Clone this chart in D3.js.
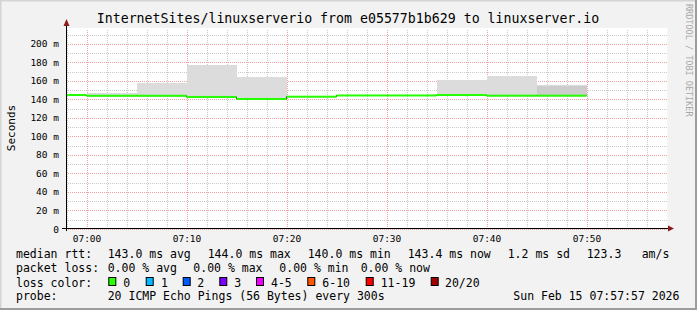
<!DOCTYPE html>
<html>
<head>
<meta charset="utf-8">
<script src="https://cdn.jsdelivr.net/npm/d3@7"></script>
<style>
body { margin: 0; background: #f2f2f2; }
text { font-family: "DejaVu Sans Mono", monospace; fill: #000; }
</style>
</head>
<body>
<svg></svg>
<script>
// chart data
const title = 'InternetSites/linuxserverio from e05577b1b629 to linuxserver.io'
const day = '2026-02-15'
const rangeStart = '06:57:57', rangeEnd = '07:57:57'
const intervalStart = ['06:55', '07:00', '07:05', '07:10', '07:15', '07:20', '07:25', '07:30', '07:35', '07:40', '07:45']
const intervalEnd = ['07:00', '07:05', '07:10', '07:15', '07:20', '07:25', '07:30', '07:35', '07:40', '07:45', '07:50']
const median = [144.3, 143.5, 143.5, 142.2, 140.0, 142.5, 143.8, 143.8, 144.3, 143.6, 143.6] // ms
const smokeLo = [143.8, 142.8, 142.8, 141.6, 139.4, 142.0, 143.2, 143.2, 143.6, 143.0, 143.0]
const smokeHi = [144.8, 146.8, 157.6, 177.1, 163.8, 143.0, 144.2, 144.2, 160.2, 164.9, 155.1]
const smokeDense = [null, null, null, null, null, null, null, null, null, null, 154.1]
const yTicks = [0, 20, 40, 60, 80, 100, 120, 140, 160, 180, 200]
const yMinor = d3.range(0, 220, 10)

const rttLabel = 'median rtt:'
const rttStats = ['143.0 ms avg', '144.0 ms max', '140.0 ms min', '143.4 ms now', '1.2 ms sd', '123.3', 'am/s']
const lossLabel = 'packet loss:'
const lossStats = ['0.00 % avg', '0.00 % max', '0.00 % min', '0.00 % now']
const colorLabel = 'loss color:'
const lossNames = ['0', '1', '2', '3', '4-5', '6-10', '11-19', '20/20']
const lossColors = ['#26ff00', '#00b8ff', '#0059ff', '#7e00ff', '#ee00ff', '#ff5500', '#ff0000', '#a10000']
const probeLabel = 'probe:'
const probeText = '20 ICMP Echo Pings (56 Bytes) every 300s'
const stamp = 'Sun Feb 15 07:57:57 2026'

// layout
const WIDTH = 697, HEIGHT = 310
const X0 = 66, X1 = 666, Y0 = 228.5, Y1 = 28.5
const swidth = 1.08 // half height of the median band, ms
const rttX = [107.7, 207.7, 307.7, 407.7, 507.7, 586.7, 641.7]
const lossX = [107.7, 193.3, 279.3, 360.7]
const swatchX = [108.3, 145.7, 182.7, 219.3, 256, 307.3, 365.7, 430.7]
const swatchTextX = [123.3, 161, 197.3, 234.3, 271, 322.3, 380.7, 445]

const parse = d3.timeParse('%Y-%m-%d %H:%M:%S')
const t = s => parse(`${day} ${s.length === 5 ? s + ':00' : s}`)

const rows = intervalStart.map((s, i) => ({
	start: t(s), end: t(intervalEnd[i]), med: median[i],
	lo: smokeLo[i], hi: smokeHi[i], dense: smokeDense[i]
}))

const svg = d3.select('svg').attr('width', WIDTH).attr('height', HEIGHT)

const x = d3.scaleTime().domain([t(rangeStart), t(rangeEnd)]).range([X0, X1])
const y = d3.scaleLinear().domain([0, 216.2]).range([Y0, Y1])

// background + frame
svg.append('rect').attr('width', WIDTH).attr('height', HEIGHT).attr('fill', '#f2f2f2')
svg.append('path').attr('d', `M0,${HEIGHT} V0 H${WIDTH}`).attr('stroke', '#d4d4d4').attr('stroke-width', 3).attr('fill', 'none')
svg.append('path').attr('d', `M${WIDTH},0 V${HEIGHT} H0`).attr('stroke', '#9c9c9c').attr('stroke-width', 4).attr('fill', 'none')

svg.append('rect').attr('x', X0 + 0.5).attr('y', 28).attr('width', X1 - X0 + 1).attr('height', 200).attr('fill', '#fff')

svg.append('defs').append('clipPath').attr('id', 'plot')
	.append('rect').attr('x', X0).attr('y', 28).attr('width', X1 - X0 + 1).attr('height', 200.5)

// grid (minor first, major on top)
const grid = svg.append('g')
function gridAxis(axis, cls, color) {
	const gg = grid.append('g').call(axis)
	gg.select('.domain').remove()
	gg.selectAll('line').attr('stroke', color).attr('stroke-dasharray', '1,1').attr('shape-rendering', 'crispEdges')
	return gg
}
gridAxis(d3.axisBottom(x).ticks(d3.timeMinute.every(2)).tickSize(-200).tickFormat(''), 'vmin', '#c9c9c9')
	.attr('transform', `translate(0.5,${Y0})`)
gridAxis(d3.axisLeft(y).tickValues(yMinor).tickSize(-(X1 - X0 + 1)).tickFormat(''), 'hmin', '#c9c9c9')
	.attr('transform', `translate(${X0},0.5)`)
gridAxis(d3.axisBottom(x).ticks(d3.timeMinute.every(10)).tickSize(-200).tickFormat(''), 'vmaj', '#f3a0a0')
	.attr('transform', `translate(0.5,${Y0})`)
gridAxis(d3.axisLeft(y).tickValues(yTicks).tickSize(-(X1 - X0 + 1)).tickFormat(''), 'hmaj', '#f3a0a0')
	.attr('transform', `translate(${X0},0.5)`)

// smoke + median
const plot = svg.append('g').attr('clip-path', 'url(#plot)')
plot.selectAll('.smoke').data(rows).join('rect')
	.attr('x', d => x(d.start)).attr('width', d => x(d.end) - x(d.start))
	.attr('y', d => y(d.hi)).attr('height', d => y(d.lo) - y(d.hi))
	.attr('fill', '#dcdcdc').attr('shape-rendering', 'crispEdges')
plot.selectAll('.dense').data(rows.filter(d => d.dense != null)).join('rect')
	.attr('x', d => x(d.start)).attr('width', d => x(d.end) - x(d.start))
	.attr('y', d => y(d.dense)).attr('height', d => y(d.lo) - y(d.dense))
	.attr('fill', '#cccccc').attr('shape-rendering', 'crispEdges')

const medLine = d3.line().x(p => x(p[0])).y(p => y(p[1]))
plot.append('path')
	.datum(rows.flatMap(d => [[d.start, d.med], [d.end, d.med]]))
	.attr('d', medLine).attr('fill', 'none').attr('stroke', '#202020').attr('stroke-width', 1)
plot.selectAll('.band').data(rows).join('rect')
	.attr('x', d => x(d.start)).attr('width', d => x(d.end) - x(d.start))
	.attr('y', d => y(d.med + swidth)).attr('height', d => y(d.med - swidth) - y(d.med + swidth))
	.attr('fill', lossColors[0])

// axes lines + arrows
svg.append('line').attr('x1', X0 + 0.5).attr('x2', X0 + 0.5).attr('y1', 231).attr('y2', 22).attr('stroke', '#000')
svg.append('line').attr('x1', 62).attr('x2', 669).attr('y1', Y0).attr('y2', Y0).attr('stroke', '#000')
svg.append('path').attr('d', `M${X0 - 2.5},26 L${X0 + 3.5},26 L${X0 + 0.5},19 Z`).attr('fill', '#8c1c1c')
svg.append('path').attr('d', `M668,225.5 L668,231.5 L674,228.5 Z`).attr('fill', '#8c1c1c')

// tick labels
svg.append('g').selectAll('text').data(yTicks).join('text')
	.attr('x', 59).attr('y', d => y(d) + 4)
	.attr('text-anchor', 'end').attr('font-size', '9.5px')
	.text(d => d === 0 ? '0' : `${d} m`)
svg.append('g').selectAll('text').data(x.ticks(d3.timeMinute.every(10))).join('text')
	.attr('x', d => x(d) + 0.5).attr('y', 242)
	.attr('text-anchor', 'middle').attr('font-size', '9.5px')
	.text(d3.timeFormat('%H:%M'))

// titles
svg.append('text').attr('x', 348).attr('y', 23).attr('text-anchor', 'middle')
	.attr('font-size', '13.25px').text(title)
svg.append('text').attr('transform', 'translate(15,128) rotate(-90)').attr('text-anchor', 'middle')
	.attr('font-size', '11px').text('Seconds')
svg.append('text').attr('transform', 'translate(686,4) rotate(90)')
	.attr('font-size', '8.5px').style('fill', '#a8a8a8').text('RRDTOOL / TOBI OETIKER')

// legend
const leg = svg.append('g').attr('font-size', '11.5px')
leg.append('text').attr('x', 16).attr('y', 258).text(rttLabel)
leg.selectAll('.rtt').data(rttStats).join('text').attr('class', 'rtt')
	.attr('x', (d, i) => rttX[i]).attr('y', 258).text(d => d)
leg.append('text').attr('x', 16).attr('y', 272).text(lossLabel)
leg.selectAll('.loss').data(lossStats).join('text').attr('class', 'loss')
	.attr('x', (d, i) => lossX[i]).attr('y', 272).text(d => d)
leg.append('text').attr('x', 16).attr('y', 286.5).text(colorLabel)
leg.selectAll('.sw').data(lossColors).join('rect').attr('class', 'sw')
	.attr('x', (d, i) => swatchX[i] + 0.5).attr('y', 277.5).attr('width', 7).attr('height', 8)
	.attr('fill', d => d).attr('stroke', '#000')
leg.selectAll('.swt').data(lossNames).join('text').attr('class', 'swt')
	.attr('x', (d, i) => swatchTextX[i]).attr('y', 286.5).text(d => d)
leg.append('text').attr('x', 16).attr('y', 300).text(probeLabel)
leg.append('text').attr('x', 107.7).attr('y', 300).text(probeText)
leg.append('text').attr('x', 513.3).attr('y', 300).text(stamp)
</script>
</body>
</html>
